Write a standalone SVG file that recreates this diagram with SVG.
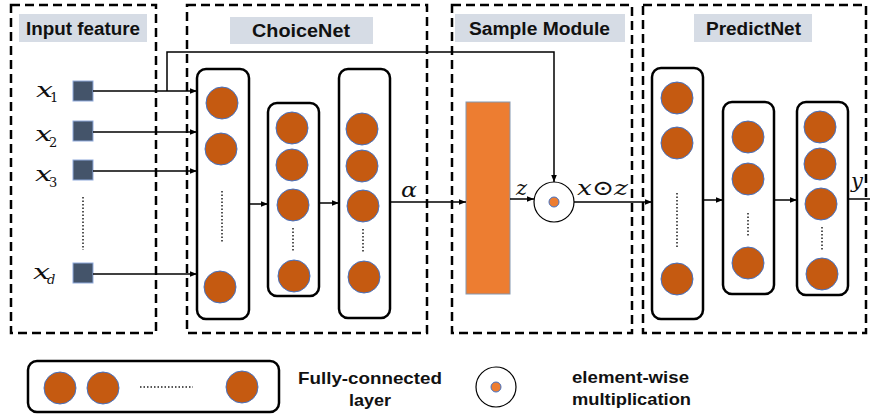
<svg xmlns="http://www.w3.org/2000/svg" width="870" height="418" viewBox="0 0 870 418">
<defs>
<marker id="ah" viewBox="0 0 10 10" refX="10" refY="5" markerWidth="7" markerHeight="7" markerUnits="userSpaceOnUse" orient="auto">
<path d="M0,1 L10,5 L0,9 z" fill="#000"/>
</marker>
</defs>
<style>
.dash{fill:none;stroke:#000;stroke-width:2.5;stroke-dasharray:9 5}
.tbg{fill:#D6DCE5}
.title{font-family:"Liberation Sans",Arial,sans-serif;font-size:18px;font-weight:bold;fill:#111}
.leg{font-family:"Liberation Sans",Arial,sans-serif;font-size:17px;font-weight:bold;fill:#111}
.layer{fill:#fff;stroke:#000;stroke-width:2.5}
.n{fill:#C55A11;stroke:#4472C4;stroke-width:1}
.sq{fill:#44546A;stroke:#8FAADC;stroke-width:1}
.dot{fill:none;stroke:#555;stroke-width:2;stroke-dasharray:1.5 2}
.ln{fill:none;stroke:#000;stroke-width:1.5}
.m{font-family:"DejaVu Serif","Liberation Serif",serif;font-style:italic;font-size:21px;fill:#111}
.sub{font-family:"DejaVu Serif","Liberation Serif",serif;font-size:13px;fill:#111}
.mul{fill:#fff;stroke:#000;stroke-width:1.2}
.mdot{fill:#ED7D31;stroke:#4472C4;stroke-width:1}
</style>
<rect width="870" height="418" fill="#fff"/>

<g id="input-feature">
<rect class="dash" x="11" y="5" width="145" height="328"/>
<rect class="tbg" x="19" y="14" width="128" height="28"/>
<text class="title" x="26" y="35" textLength="114" lengthAdjust="spacingAndGlyphs">Input feature</text>
<rect class="sq" x="73" y="81" width="20" height="20"/>
<rect class="sq" x="73" y="121" width="20" height="20"/>
<rect class="sq" x="73" y="160" width="20" height="20"/>
<rect class="sq" x="73" y="263" width="20" height="20"/>
<line class="dot" x1="83" y1="197" x2="83" y2="250"/>
<text class="m" x="36" y="97" textLength="17" lengthAdjust="spacingAndGlyphs">x</text><text class="sub" x="50" y="102">1</text>
<text class="m" x="35" y="141" textLength="17" lengthAdjust="spacingAndGlyphs">x</text><text class="sub" x="49" y="147">2</text>
<text class="m" x="35" y="181" textLength="17" lengthAdjust="spacingAndGlyphs">x</text><text class="sub" x="49" y="187">3</text>
<text class="m" x="33" y="279" textLength="17" lengthAdjust="spacingAndGlyphs">x</text><text class="sub" x="47" y="284" font-style="italic">d</text>
</g>

<g id="choicenet">
<rect class="dash" x="187" y="5" width="240" height="328"/>
<rect class="tbg" x="230" y="17" width="143" height="27"/>
<text class="title" x="252" y="37" textLength="98" lengthAdjust="spacingAndGlyphs">ChoiceNet</text>
<g id="choice-layer1">
<rect class="layer" x="197" y="69" width="52" height="250" rx="9"/>
<circle class="n" cx="222" cy="103" r="16"/>
<circle class="n" cx="221" cy="149" r="16"/>
<line class="dot" x1="222" y1="191" x2="222" y2="243"/>
<circle class="n" cx="220" cy="287" r="16"/>
</g>
<g id="choice-layer2">
<rect class="layer" x="268" y="103" width="51" height="193" rx="9"/>
<circle class="n" cx="292" cy="128" r="16"/>
<circle class="n" cx="292" cy="165" r="16"/>
<circle class="n" cx="293" cy="205" r="16"/>
<line class="dot" x1="293" y1="228" x2="293" y2="252"/>
<circle class="n" cx="294" cy="276" r="16"/>
</g>
<g id="choice-layer3">
<rect class="layer" x="339" y="69" width="51" height="249" rx="9"/>
<circle class="n" cx="362" cy="129" r="16"/>
<circle class="n" cx="362" cy="166" r="16"/>
<circle class="n" cx="363" cy="206" r="16"/>
<line class="dot" x1="363" y1="229" x2="363" y2="253"/>
<circle class="n" cx="364" cy="277" r="16"/>
</g>
</g>

<g id="sample-module">
<rect class="dash" x="452" y="5" width="180" height="328"/>
<rect class="tbg" x="455" y="14" width="170" height="28"/>
<text class="title" x="469" y="35" textLength="141" lengthAdjust="spacingAndGlyphs">Sample Module</text>
<rect x="466" y="102" width="44" height="192" fill="#ED7D31" stroke="#8497B0" stroke-width="1"/>
</g>

<g id="multiply">
<circle class="mul" cx="554" cy="202" r="20"/>
<circle class="mdot" cx="554" cy="202" r="5"/>
</g>

<g id="predictnet">
<rect class="dash" x="643" y="5" width="223" height="328"/>
<rect class="tbg" x="694" y="14" width="118" height="28"/>
<text class="title" x="706" y="35" textLength="95" lengthAdjust="spacingAndGlyphs">PredictNet</text>
<g id="predict-layer1">
<rect class="layer" x="652" y="68" width="51" height="251" rx="9"/>
<circle class="n" cx="677" cy="98" r="16"/>
<circle class="n" cx="677" cy="143" r="16"/>
<line class="dot" x1="677" y1="193" x2="677" y2="247"/>
<circle class="n" cx="677" cy="279" r="16"/>
</g>
<g id="predict-layer2">
<rect class="layer" x="723" y="102" width="51" height="192" rx="9"/>
<circle class="n" cx="748" cy="137" r="16"/>
<circle class="n" cx="748" cy="179" r="16"/>
<line class="dot" x1="748" y1="213" x2="748" y2="237"/>
<circle class="n" cx="748" cy="263" r="16"/>
</g>
<g id="predict-layer3">
<rect class="layer" x="797" y="102" width="51" height="193" rx="9"/>
<circle class="n" cx="820" cy="127" r="16"/>
<circle class="n" cx="820" cy="164" r="16"/>
<circle class="n" cx="821" cy="204" r="16"/>
<line class="dot" x1="822" y1="227" x2="822" y2="250"/>
<circle class="n" cx="822" cy="274" r="16"/>
</g>
</g>

<g id="connectors">
<line class="ln" x1="93" y1="91" x2="197" y2="91" marker-end="url(#ah)"/>
<line class="ln" x1="93" y1="132" x2="197" y2="132" marker-end="url(#ah)"/>
<line class="ln" x1="93" y1="171" x2="197" y2="171" marker-end="url(#ah)"/>
<line class="ln" x1="93" y1="274" x2="197" y2="274" marker-end="url(#ah)"/>
<polyline class="ln" points="167,91 167,52 554,52 554,182" marker-end="url(#ah)"/>
<line class="ln" x1="249" y1="204" x2="268" y2="204" marker-end="url(#ah)"/>
<line class="ln" x1="319" y1="203" x2="339" y2="203" marker-end="url(#ah)"/>
<line class="ln" x1="390" y1="202" x2="466" y2="202" marker-end="url(#ah)"/>
<line class="ln" x1="510" y1="199" x2="534" y2="199" marker-end="url(#ah)"/>
<line class="ln" x1="574" y1="202" x2="652" y2="202" marker-end="url(#ah)"/>
<line class="ln" x1="703" y1="200" x2="723" y2="200" marker-end="url(#ah)"/>
<line class="ln" x1="774" y1="200" x2="797" y2="200" marker-end="url(#ah)"/>
<line class="ln" x1="848" y1="199" x2="870" y2="199"/>
<text class="m" x="401" y="197" textLength="16" lengthAdjust="spacingAndGlyphs">α</text>
<text class="m" x="516" y="195">z</text>
<text class="m" x="577" y="195" textLength="51" lengthAdjust="spacingAndGlyphs">x⊙z</text>
<text class="m" x="851" y="188">y</text>
</g>

<g id="legend-layer">
<rect class="layer" x="28" y="361" width="251" height="51" rx="9"/>
<circle class="n" cx="60" cy="388" r="16"/>
<circle class="n" cx="103" cy="388" r="16"/>
<line class="dot" x1="140" y1="387" x2="193" y2="387"/>
<circle class="n" cx="242" cy="387" r="16"/>
<text class="leg" x="298" y="384" textLength="144" lengthAdjust="spacingAndGlyphs">Fully-connected</text>
<text class="leg" x="349" y="406" textLength="42" lengthAdjust="spacingAndGlyphs">layer</text>
</g>

<g id="legend-mult">
<circle class="mul" cx="496" cy="387" r="20"/>
<circle class="mdot" cx="496" cy="387" r="5"/>
<text class="leg" x="572" y="383" textLength="117" lengthAdjust="spacingAndGlyphs">element-wise</text>
<text class="leg" x="572" y="405" textLength="119" lengthAdjust="spacingAndGlyphs">multiplication</text>
</g>
</svg>
